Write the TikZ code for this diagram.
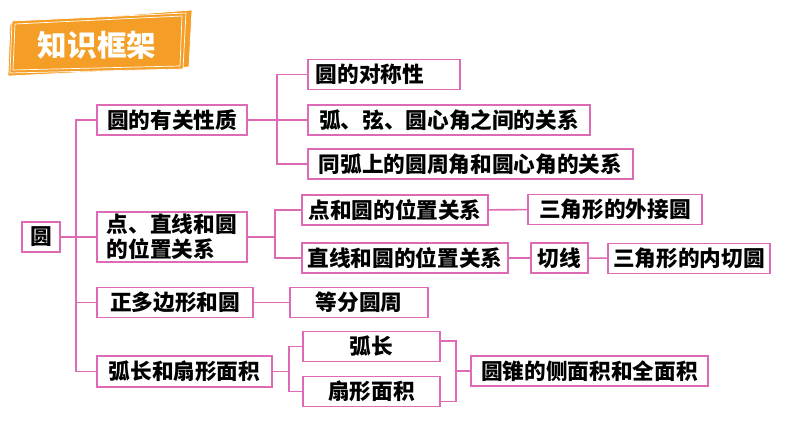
\documentclass[tikz,border=0pt]{standalone}
\usepackage{fontspec}
\setmainfont{Noto Sans CJK SC}
\usepackage{tikz}
\usepackage{color}

\definecolor{linkpink}{RGB}{222,105,180}
\definecolor{bannerorange}{RGB}{244,158,40}

\tikzset{
	box/.style={draw=linkpink, line width=1.1pt, rectangle, minimum height=0.74cm, inner sep=0pt,
		font=\fontsize{15.4pt}{17.5pt}\selectfont\bfseries},
	link/.style={draw=linkpink, line width=1.1pt},
	banner/.style={fill=bannerorange, draw=white, line width=0.5pt}
}

\begin{document}
\begin{tikzpicture}[x=0.025cm, y=-0.025cm]
	\useasboundingbox (0,0) rectangle (794,447);

	% title banner
	\path[banner] (10,24) -- (192,10) -- (189,67) -- (8,76) -- cycle;
	\path[banner] (12,21) -- (186,13) -- (183,69) -- (10,73) -- cycle;
	\draw[white, line width=0.5pt] (15,24) -- (182,16) -- (180,66) -- (13,70) -- cycle;
	\node[text=white, font=\fontsize{21pt}{24pt}\selectfont\bfseries] (title) at (97,45) {知识框架};

	% first level
	\node[box, minimum width=0.95cm] (yuan) at (41,237) {圆};
	\node[box, minimum width=3.75cm] (xz) at (172,120) {圆的有关性质};
	\node[box, minimum width=3.75cm, minimum height=1.25cm, text width=3.25cm, align=left] (wz) at (172,237) {点、直线和圆\\的位置关系};
	\node[box, minimum width=3.9cm] (dbx) at (175,302.5) {正多边形和圆};
	\node[box, minimum width=4.375cm, minimum height=0.775cm] (hc) at (184.5,371.5) {弧长和扇形面积};

	% second level
	\node[box, minimum width=3.8cm, text width=3.4cm, align=left] (dc) at (384,74.5) {圆的对称性};
	\node[box, minimum width=7.05cm] (hx) at (449,120) {弧、弦、圆心角之间的关系};
	\node[box, minimum width=8.125cm] (tg) at (470.5,164) {同弧上的圆周角和圆心角的关系};
	\node[box, minimum width=4.65cm] (dy) at (395,210) {点和圆的位置关系};
	\node[box, minimum width=5.15cm] (zy) at (405,258) {直线和圆的位置关系};
	\node[box, minimum width=3.45cm] (df) at (359,302.5) {等分圆周};
	\node[box, minimum width=3.425cm] (hl) at (371.5,346.5) {弧长};
	\node[box, minimum width=3.425cm] (sx) at (371.5,391.5) {扇形面积};

	% third level
	\node[box, minimum width=4.35cm] (wj) at (615,209.5) {三角形的外接圆};
	\node[box, minimum width=1.425cm] (qx) at (559.5,258) {切线};
	\node[box, minimum width=4.05cm] (nq) at (689,258.5) {三角形的内切圆};
	\node[box, minimum width=5.925cm] (yz) at (589.5,371) {圆锥的侧面积和全面积};

	% branch points
	\coordinate (trunk) at (76,237);
	\coordinate (b1) at (277,120);
	\coordinate (b2) at (275,237);
	\coordinate (b3) at (289,371.5);
	\coordinate (b4) at (456,371);

	\draw[link] (yuan) -- (wz);
	\draw[link] (xz.west) -| (trunk) |- (hc.west);
	\draw[link] (trunk |- dbx.west) -- (dbx.west);

	\draw[link] (xz) -- (hx);
	\draw[link] (dc.west) -| (b1) |- (tg.west);

	\draw[link] (wz.east) -- (b2);
	\draw[link] (dy.west) -| (b2) |- (zy.west);
	\draw[link] (dy) -- (wj);
	\draw[link] (zy) -- (qx);
	\draw[link] (qx) -- (nq);

	\draw[link] (dbx) -- (df);

	\draw[link] (hc.east) -- (b3);
	\draw[link] (hl.west) -| (b3) |- (sx.west);
	\draw[link] ([yshift=4pt]hl.east) -| (b4) |- ([yshift=-7pt]sx.east);
	\draw[link] (b4) -- (yz.west);

\end{tikzpicture}
\end{document}
